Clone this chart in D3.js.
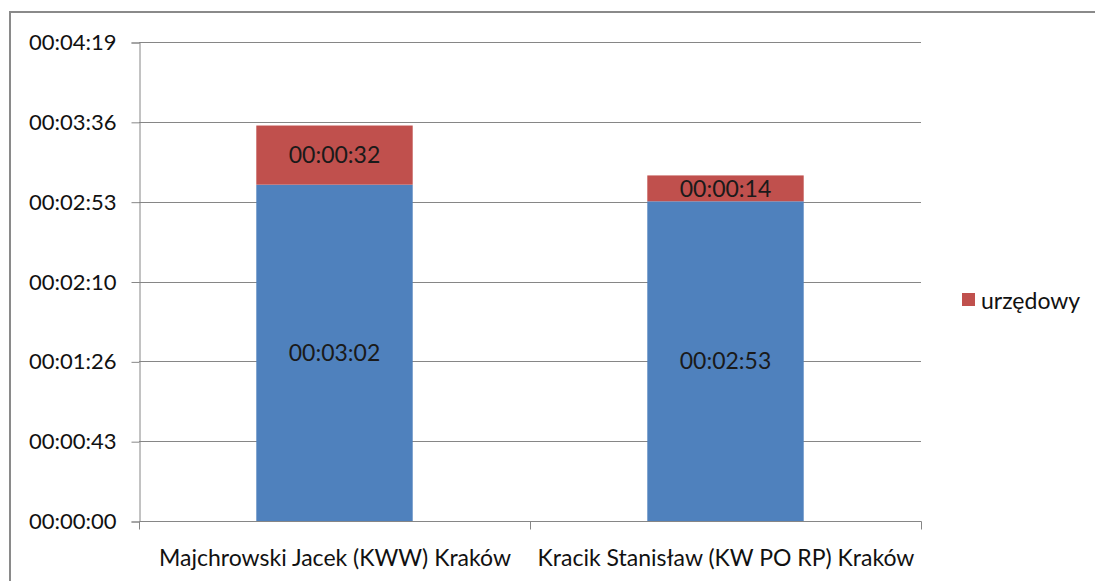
<!DOCTYPE html>
<html><head><meta charset="utf-8">
<script src="https://cdn.jsdelivr.net/npm/d3@7"></script>
<style>
html,body{margin:0;padding:0;background:#fff;}
svg{display:block;font-family:Lato, "Open Sans", sans-serif;}
</style></head>
<body><svg id="c" width="1095" height="581"></svg>
<script>
// Data (seconds)
const categories = ["Majchrowski Jacek (KWW) Kraków", "Kracik Stanisław (KW PO RP) Kraków"];
const baseSeries = [182, 173];      // blue series (unnamed in legend)
const urzedowySeries = [32, 14];     // "urzędowy"
const tickValues = [0, 43.2, 86.4, 129.6, 172.8, 216, 259.2];
const tickLabels = ["00:00:00","00:00:43","00:01:26","00:02:10","00:02:53","00:03:36","00:04:19"];
const legendLabel = "urzędowy";

(function(){
const svg = d3.select("#c");
const pLeft = 139, pRight = 921, pTop = 42, pBottom = 521;
const blue = "#4F81BD", red = "#C0504D", grid = "#868686";

// outer chart border (cropped on right/bottom)
svg.append("rect").attr("x",10).attr("y",12).attr("width",1200).attr("height",700)
  .attr("fill","none").attr("stroke","#8a8a8a").attr("stroke-width",2);

const x = d3.scaleBand().domain(categories).range([pLeft,pRight]).paddingInner(0).paddingOuter(0);
const y = d3.scaleLinear().domain([0,259.2]).range([pBottom,pTop]);

// gridlines
svg.append("g").selectAll("line").data(tickValues.slice(1)).join("line")
  .attr("x1",pLeft).attr("x2",pRight)
  .attr("y1",d=>Math.round(y(d))+0.5).attr("y2",d=>Math.round(y(d))+0.5)
  .attr("stroke",grid).attr("stroke-width",1);

// y axis
const yAxis = d3.axisLeft(y).tickValues(tickValues).tickFormat((d,i)=>tickLabels[i]).tickSize(8).tickPadding(15);
const gy = svg.append("g").attr("transform",`translate(${pLeft+0.5},0.5)`).call(yAxis);
gy.select(".domain").attr("stroke",grid);
gy.selectAll(".tick line").attr("stroke",grid);
gy.selectAll(".tick text").attr("font-size",22).attr("fill","#111").attr("font-family","Lato");

// bars
const bw = x.bandwidth()*0.4;
const stacks = categories.map((c,i)=>({c, b:baseSeries[i], r:urzedowySeries[i]}));
const gb = svg.append("g");
gb.selectAll("rect.b").data(stacks).join("rect").attr("class","b")
  .attr("x",d=>x(d.c)+x.bandwidth()/2-bw/2).attr("width",bw)
  .attr("y",d=>y(d.b)).attr("height",d=>y(0)-y(d.b)).attr("fill",blue);
gb.selectAll("rect.r").data(stacks).join("rect").attr("class","r")
  .attr("x",d=>x(d.c)+x.bandwidth()/2-bw/2).attr("width",bw)
  .attr("y",d=>y(d.b+d.r)).attr("height",d=>y(d.b)-y(d.b+d.r)).attr("fill",red);

// x axis
const gx = svg.append("g").attr("transform",`translate(0.5,${pBottom+0.5})`);
gx.append("line").attr("x1",pLeft).attr("x2",pRight).attr("stroke",grid);
const bounds = [pLeft, pLeft+x.bandwidth(), pRight];
gx.selectAll("line.t").data(bounds).join("line").attr("class","t")
  .attr("x1",d=>d).attr("x2",d=>d).attr("y1",0).attr("y2",8).attr("stroke",grid);
gx.selectAll("text").data(categories).join("text")
  .attr("x",d=>x(d)+x.bandwidth()/2).attr("y",44).attr("text-anchor","middle")
  .attr("font-size",23).attr("fill","#111").text(d=>d);

// data labels
const fmt = s => { s=Math.round(s); const h=Math.floor(s/3600), m=Math.floor(s%3600/60), ss=s%60;
  return [h,m,ss].map(v=>String(v).padStart(2,"0")).join(":"); };
const gl = svg.append("g").attr("font-size",23).attr("fill","#1a1a1a").attr("text-anchor","middle");
gl.selectAll("text.b").data(stacks).join("text").attr("class","b")
  .attr("x",d=>x(d.c)+x.bandwidth()/2).attr("y",d=>(y(0)+y(d.b))/2).attr("dy","0.36em").text(d=>fmt(d.b));
gl.selectAll("text.r").data(stacks).join("text").attr("class","r")
  .attr("x",d=>x(d.c)+x.bandwidth()/2).attr("y",d=>(y(d.b)+y(d.b+d.r))/2).attr("dy","0.36em").text(d=>fmt(d.r));

// legend
const lg = svg.append("g");
lg.append("rect").attr("x",962).attr("y",293).attr("width",13).attr("height",13).attr("fill",red);
lg.append("text").attr("x",981).attr("y",309).attr("font-size",23).attr("fill","#111").text(legendLabel);
})();
</script></body></html>
